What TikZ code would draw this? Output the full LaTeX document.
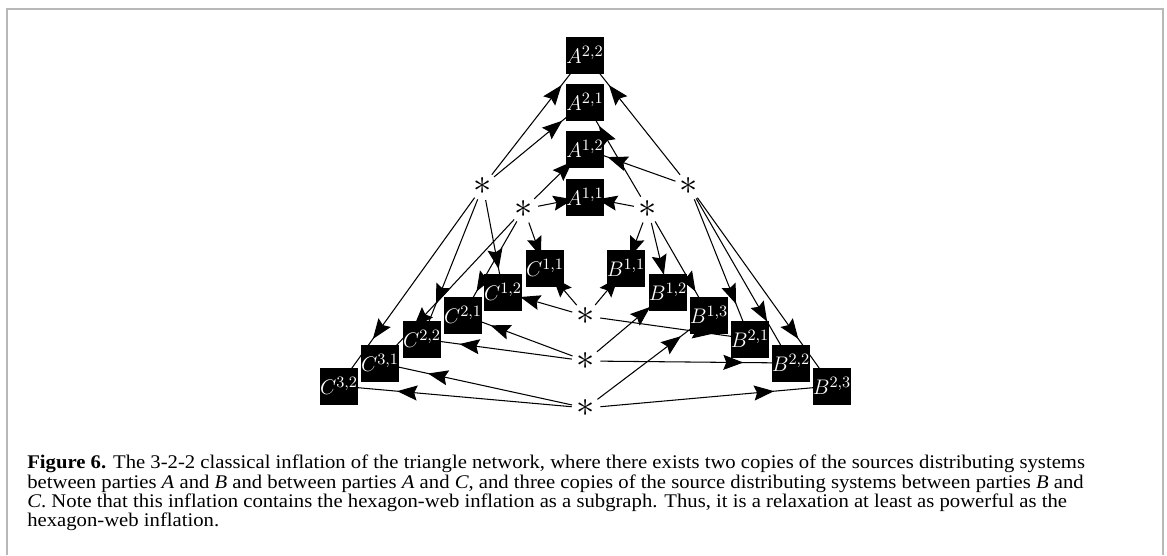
\documentclass[tikz,border=0pt]{standalone}
\usepackage{fontspec}
\setmainfont{Liberation Serif}[FakeStretch=1.07]
\usetikzlibrary{arrows.meta,decorations.markings,backgrounds}
\newcommand{\boxsize}{0.74cm}
\newcommand{\arrowpos}{0.75}
\newcommand{\linethick}{0.6pt}
\definecolor{framegray}{gray}{0.72}
\tikzset{
  party/.style={fill=black, text=white, minimum size=\boxsize, inner sep=0pt, font=\fontsize{12.5}{12.5}\selectfont},
  source/.style={circle, minimum size=0.56cm, inner sep=0pt, font=\fontsize{20}{20}\selectfont},
  flow/.style={line width=\linethick, postaction={decorate},
    decoration={markings, mark=at position \arrowpos with {\arrow{Stealth[length=0.4cm, width=0.3cm, inset=0.06cm]}}}}
}

\begin{document}
\begin{tikzpicture}
\useasboundingbox (0,0) rectangle (23.34,-11.10);
% frame
\draw[framegray, line width=1.2pt] (0.14,-11.10) |- (23.26,-0.18) -- (23.26,-11.10);
% parties
\node[party] (A22) at (11.70, -1.10) {$A^{2,2}$};
\node[party] (A21) at (11.70, -2.04) {$A^{2,1}$};
\node[party] (A12) at (11.70, -2.98) {$A^{1,2}$};
\node[party] (A11) at (11.70, -3.94) {$A^{1,1}$};
\node[party] (C11) at (10.90, -5.36) {$C^{1,1}$};
\node[party] (C12) at (10.06, -5.84) {$C^{1,2}$};
\node[party] (C21) at (9.26, -6.30) {$C^{2,1}$};
\node[party] (C22) at (8.44, -6.78) {$C^{2,2}$};
\node[party] (C31) at (7.60, -7.26) {$C^{3,1}$};
\node[party] (C32) at (6.78, -7.72) {$C^{3,2}$};
\node[party] (B11) at (12.52, -5.36) {$B^{1,1}$};
\node[party] (B12) at (13.36, -5.84) {$B^{1,2}$};
\node[party] (B13) at (14.18, -6.30) {$B^{1,3}$};
\node[party] (B21) at (15.00, -6.78) {$B^{2,1}$};
\node[party] (B22) at (15.82, -7.26) {$B^{2,2}$};
\node[party] (B23) at (16.64, -7.72) {$B^{2,3}$};
% sources
\node[source] (beta2) at (9.66, -3.72) {$\ast$};
\node[source] (beta1) at (10.48, -4.18) {$\ast$};
\node[source] (gamma1) at (12.96, -4.18) {$\ast$};
\node[source] (gamma2) at (13.78, -3.72) {$\ast$};
\node[source] (alpha1) at (11.72, -6.32) {$\ast$};
\node[source] (alpha2) at (11.72, -7.22) {$\ast$};
\node[source] (alpha3) at (11.72, -8.16) {$\ast$};
\begin{scope}[on background layer]
%beta1
\draw[flow] (beta1) -- (A11.center);
\draw[flow] (beta1) -- (A12.center);
\draw[flow] (beta1) -- (C11.center);
\draw[flow] (beta1) -- (C21.center);
\draw[flow] (beta1) -- (C31.center);
%beta2
\draw[flow] (beta2) -- (A21.center);
\draw[flow] (beta2) -- (A22.center);
\draw[flow] (beta2) -- (C12.center);
\draw[flow] (beta2) -- (C22.center);
\draw[flow] (beta2) -- (C32.center);
%gamma1
\draw[flow] (gamma1) -- (A11.center);
\draw[flow] (gamma1) -- (A21.center);
\draw[flow] (gamma1) -- (B11.center);
\draw[flow] (gamma1) -- (B12.center);
\draw[flow] (gamma1) -- (B13.center);
%gamma2
\draw[flow] (gamma2) -- (A12.center);
\draw[flow] (gamma2) -- (A22.center);
\draw[flow] (gamma2) -- (B21.center);
\draw[flow] (gamma2) -- (B22.center);
\draw[flow] (gamma2) -- (B23.center);
%alpha1
\draw[flow] (alpha1) -- (C11.center);
\draw[flow] (alpha1) -- (C12.center);
\draw[flow] (alpha1) -- (B11.center);
\draw[flow] (alpha1) -- (B21.center);
%alpha2
\draw[flow] (alpha2) -- (C21.center);
\draw[flow] (alpha2) -- (C22.center);
\draw[flow] (alpha2) -- (B12.center);
\draw[flow] (alpha2) -- (B22.center);
%alpha3
\draw[flow] (alpha3) -- (C31.center);
\draw[flow] (alpha3) -- (C32.center);
\draw[flow] (alpha3) -- (B13.center);
\draw[flow] (alpha3) -- (B23.center);
\end{scope}
% caption
\node[anchor=north west, align=left, inner sep=0pt, font=\fontsize{11}{10.9}\selectfont] (caption) at (0.54, -9.10)
  {\textbf{Figure 6.} The 3-2-2 classical inflation of the triangle network, where there exists two copies of the sources distributing systems\\
   between parties \textit{A} and \textit{B} and between parties \textit{A} and \textit{C}, and three copies of the source distributing systems between parties \textit{B} and\\
   \textit{C}. Note that this inflation contains the hexagon-web inflation as a subgraph. Thus, it is a relaxation at least as powerful as the\\
   hexagon-web inflation.};
\end{tikzpicture}
\end{document}
